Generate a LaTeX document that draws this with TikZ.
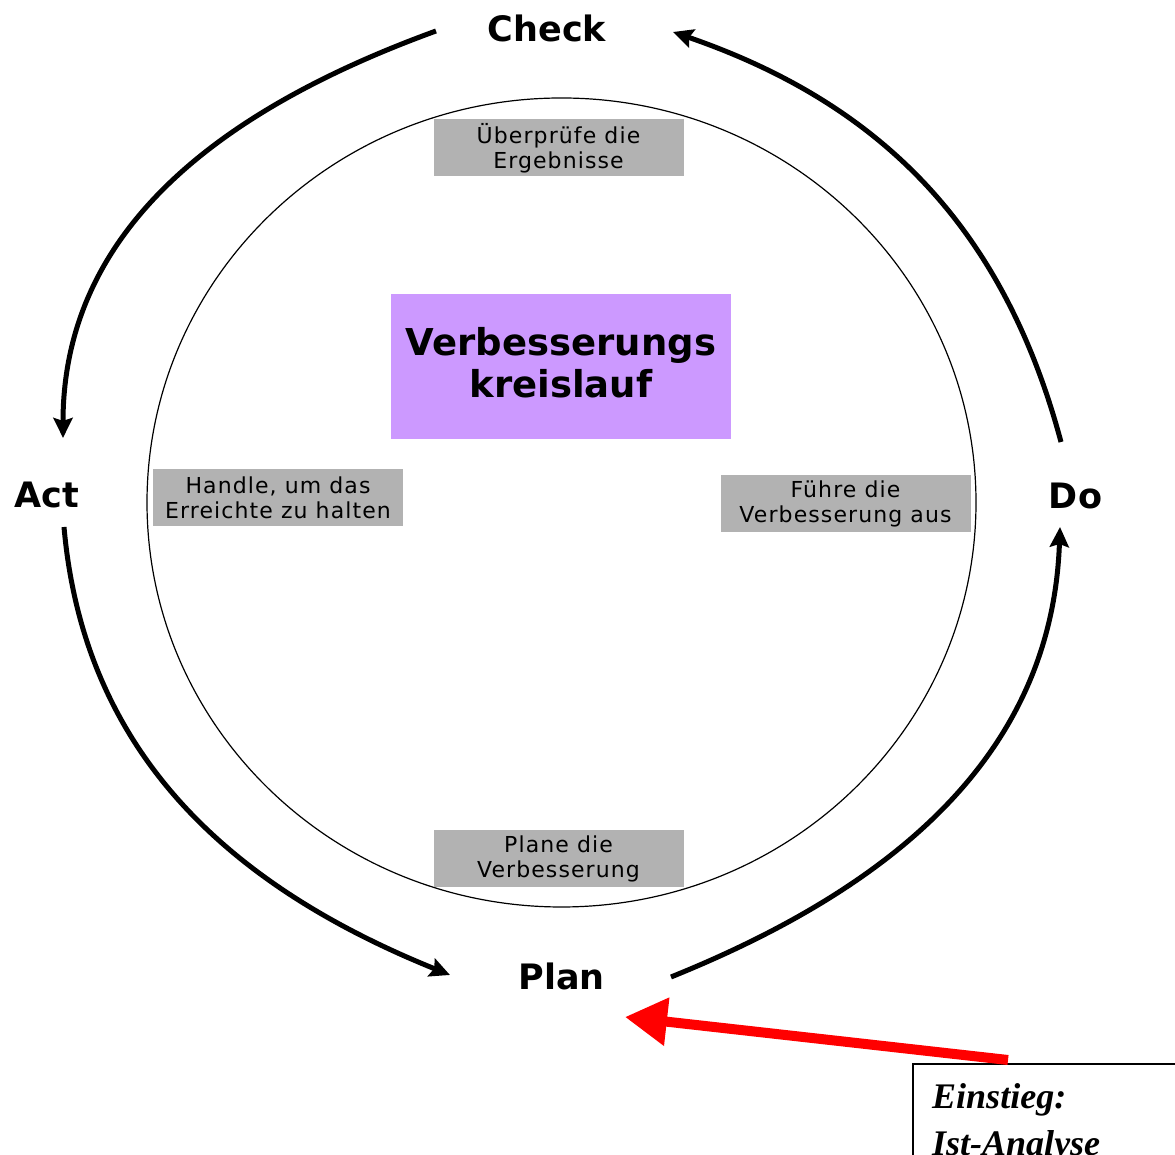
\documentclass[tikz,border=0pt]{standalone}
\usepackage{fontspec}
\setmainfont{DejaVu Sans}
\newfontfamily\entryfont{Liberation Serif}
\usetikzlibrary{arrows.meta}
\definecolor{boxgray}{HTML}{B2B2B2}
\definecolor{lilac}{HTML}{CC99FF}
\definecolor{entryred}{HTML}{FF0000}
\begin{document}
\begin{tikzpicture}[x=1pt,y=1pt,
  phase/.style={font=\fontsize{35}{42}\selectfont\bfseries, inner sep=0pt, anchor=base},
  task/.style={fill=boxgray, minimum width=250pt, minimum height=57pt, inner sep=0pt,
    align=center, font=\fontsize{22}{25}\selectfont\addfontfeature{LetterSpace=5}},
  titlebox/.style={fill=lilac, minimum width=340pt, minimum height=145pt, inner sep=0pt},
  titletext/.style={align=center, inner sep=0pt, font=\fontsize{37}{42}\selectfont\bfseries},
  cyc/.style={line width=5pt, -{Stealth[length=20pt,width=19pt,inset=3pt]}},
  entryarrow/.style={line width=10pt, entryred, -{Triangle[length=42pt,width=46pt]}},
  entrybox/.style={draw, line width=1.8pt, anchor=north west, minimum width=300pt,
    minimum height=110pt, inner sep=0pt},
  entrytext/.style={font=\entryfont\fontsize{36}{47}\selectfont\bfseries\itshape,
    inner sep=0pt, anchor=base west}
]
\useasboundingbox (0,0) rectangle (1175,1155);
\clip (0,0) rectangle (1175,1155);
\fill[white] (0,0) rectangle (1175,1155);

% ring
\draw[line width=1.2pt] (561.5,652.5) ellipse [x radius=414.5, y radius=404.5];

% task boxes
\node[task] (checktask) at (558.5,1007) {Überprüfe die\\Ergebnisse};
\node[task] (acttask) at (278,657) {Handle, um das\\Erreichte zu halten};
\node[task] (dotask) at (845.5,651.5) {Führe die\\Verbesserung aus};
\node[task] (plantask) at (558.5,296) {Plane die\\Verbesserung};

% title
\node[titlebox] (title) at (561,788.5) {};
\node[titletext] (titlelabel) at ([yshift=4]title.center) {Verbesserungs\\kreislauf};

% phase labels
\node[phase] (Check) at (547,1113) {Check};
\node[phase] (Act) at (46.5,647) {Act};
\node[phase] (Do) at (1075.5,646) {Do};
\node[phase] (Plan) at (561.5,165) {Plan};

% cycle arrows
\draw[cyc] ([shift={(-111,11)}]Check.base) to[out=200,in=90] ([shift={(16.5,70)}]Act.base);
\draw[cyc] ([shift={(17.5,-19)}]Act.base) to[out=275,in=158] ([shift={(-111.5,15)}]Plan.base);
\draw[cyc] ([shift={(109.5,13)}]Plan.base) to[out=22,in=268] ([shift={(-15.5,-18)}]Do.base);
\draw[cyc] ([shift={(-14.5,67)}]Do.base) to[out=105,in=341] ([shift={(126,10)}]Check.base);

% entry box
\node[entrybox] (entry) at (912,92) {};
\node[entrytext] (entry1) at (932,46) {Einstieg:};
\node[entrytext] (entry2) at (932,-1) {Ist-Analyse};
\draw[entryarrow] ([shift={(96,3)}]entry.north west) -- ([shift={(63.5,-27)}]Plan.base);
\end{tikzpicture}
\end{document}
